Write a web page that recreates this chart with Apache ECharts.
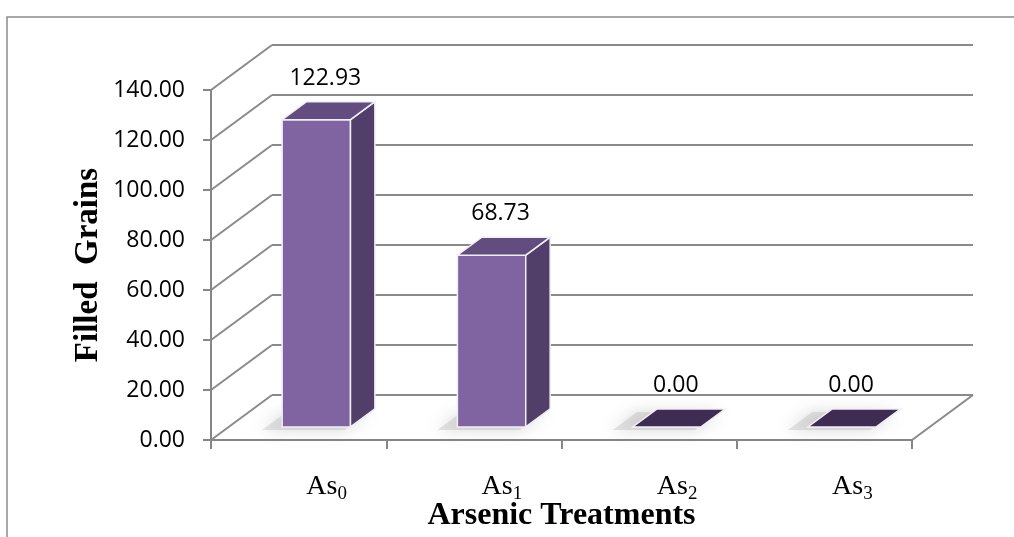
<!DOCTYPE html>
<html>
<head>
<meta charset="utf-8">
<script src="https://cdn.jsdelivr.net/npm/echarts@6/dist/echarts.min.js"></script>
<style>
  html, body { margin: 0; padding: 0; background: #fff; }
  #chart { width: 1014px; height: 537px; }
</style>
</head>
<body>
<div id="chart"></div>
<script>
// data
const categories = ['As0', 'As1', 'As2', 'As3'];
const filledGrains = [122.93, 68.73, 0.0, 0.0];
const yTicks = [0, 20, 40, 60, 80, 100, 120, 140];

// 3d look (pixels / fractions)
const depthX = 61;
const depthY = -45;
const barFront = 0.29;
const barBack = 0.69;
const barWidth = 0.39;
const gridColor = '#8a8a8a';

const chart = echarts.init(document.getElementById('chart'));

function renderWall(params, api) {
	const cs = params.coordSys;
	const v = api.value(1);
	const y = api.coord([0, v])[1];
	const left = cs.x;
	const right = cs.x + cs.width;
	const style = {stroke: gridColor, lineWidth: 2, fill: null};
	const children = [
		{type: 'line', shape: {x1: left, y1: y, x2: left + depthX, y2: y + depthY}, style},
		{type: 'line', shape: {x1: left + depthX, y1: y + depthY, x2: right + depthX, y2: y + depthY}, style},
	];
	if (v === 0) {
		children.push({type: 'line', shape: {x1: right, y1: y, x2: right + depthX, y2: y + depthY}, style});
	}
	return {type: 'group', children};
}

function renderBar(params, api) {
	const i = api.value(0);
	const v = api.value(1);
	const base = api.coord([i, 0]);
	const top = api.coord([i, v]);
	const band = api.size([1, 0])[0];
	const w = band * barWidth;
	const x0 = base[0] - w / 2 + depthX * barFront;
	const x1 = x0 + w;
	const yb = base[1] + depthY * barFront;
	const yt = top[1] + depthY * barFront;
	const bx = depthX * (barBack - barFront);
	const by = depthY * (barBack - barFront);
	const edge = {stroke: '#f2eef6', lineWidth: 1.5};
	const flat = yb - yt < 1;

	return {
		type: 'group',
		children: [
			{
				// soft shadow on the floor
				type: 'polygon',
				shape: {points: [[x0 - 20, yb + 3], [x1 - 6, yb + 3], [x1 + bx - 6, yb + by + 3], [x0 + bx - 20, yb + by + 3]]},
				style: {fill: 'rgba(170,170,170,0.3)', shadowBlur: 16, shadowColor: 'rgba(110,110,110,0.9)'},
			},
			{
				type: 'rect',
				shape: {x: x0, y: yt, width: w, height: yb - yt},
				style: Object.assign({fill: '#8064a2'}, edge),
			},
			{
				type: 'polygon',
				shape: {points: [[x1, yt], [x1 + bx, yt + by], [x1 + bx, yb + by], [x1, yb]]},
				style: Object.assign({fill: '#523f69'}, edge),
			},
			{
				type: 'polygon',
				shape: {points: [[x0, yt], [x1, yt], [x1 + bx, yt + by], [x0 + bx, yt + by]]},
				style: Object.assign({fill: flat ? '#3e2c53' : '#634c7f'}, edge),
			},
			{
				type: 'text',
				x: (x0 + x1) / 2 + 9,
				y: yt + by - 12,
				style: {
					text: v.toFixed(2),
					align: 'center',
					verticalAlign: 'bottom',
					fontFamily: 'Open Sans',
					fontSize: 23,
					fill: '#000',
				},
			},
		],
	};
}

const option = {
	animation: false,
	backgroundColor: '#fff',
	grid: {left: 211, top: 90, width: 701, height: 350, containLabel: false, outerBoundsMode: 'none'},
	graphic: [
		{
			type: 'rect',
			shape: {x: 7, y: 17, width: 1100, height: 600},
			style: {fill: null, stroke: '#8c8c8c', lineWidth: 1.5},
			silent: true,
		},
	],
	xAxis: {
		type: 'category',
		data: categories,
		axisLine: {lineStyle: {color: '#868686', width: 2}},
		axisTick: {show: true, length: 9, lineStyle: {color: '#868686', width: 2}},
		axisLabel: {
			margin: 33,
			padding: [0, 0, 0, 56],
			formatter: (v) => `{a|${v.slice(0, 2)}}{b|${v.slice(2)}}`,
			rich: {
				a: {fontFamily: 'Liberation Serif', fontSize: 28, color: '#000', verticalAlign: 'top', lineHeight: 28},
				b: {fontFamily: 'Liberation Serif', fontSize: 19, color: '#000', verticalAlign: 'top', lineHeight: 19, padding: [12, 0, 0, 0]},
			},
		},
		name: 'Arsenic Treatments',
		nameLocation: 'middle',
		nameGap: 60,
		nameMoveOverlap: false,
		nameTextStyle: {fontFamily: 'Liberation Serif', fontWeight: 'bold', fontSize: 32, color: '#000'},
	},
	yAxis: {
		type: 'value',
		min: 0,
		max: 140,
		interval: 20,
		axisLine: {show: true, lineStyle: {color: '#868686', width: 2}},
		axisTick: {show: true, length: 8, lineStyle: {color: '#868686', width: 2}},
		splitLine: {show: false},
		axisLabel: {
			margin: 26,
			formatter: (v) => v.toFixed(2),
			fontFamily: 'Open Sans',
			fontSize: 23,
			color: '#000',
		},
		name: 'Filled  Grains',
		nameLocation: 'middle',
		nameGap: 106,
		nameMoveOverlap: false,
		nameTextStyle: {fontFamily: 'Liberation Serif', fontWeight: 'bold', fontSize: 33, color: '#000'},
	},
	series: [
		{
			type: 'custom',
			name: 'wall',
			silent: true,
			clip: false,
			z: 1,
			data: yTicks.map((t) => [0, t]),
			renderItem: renderWall,
		},
		{
			type: 'custom',
			name: 'Filled Grains',
			clip: false,
			z: 3,
			data: filledGrains.map((v, i) => [i, v]),
			renderItem: renderBar,
		},
	],
};

chart.setOption(option);
</script>
</body>
</html>
